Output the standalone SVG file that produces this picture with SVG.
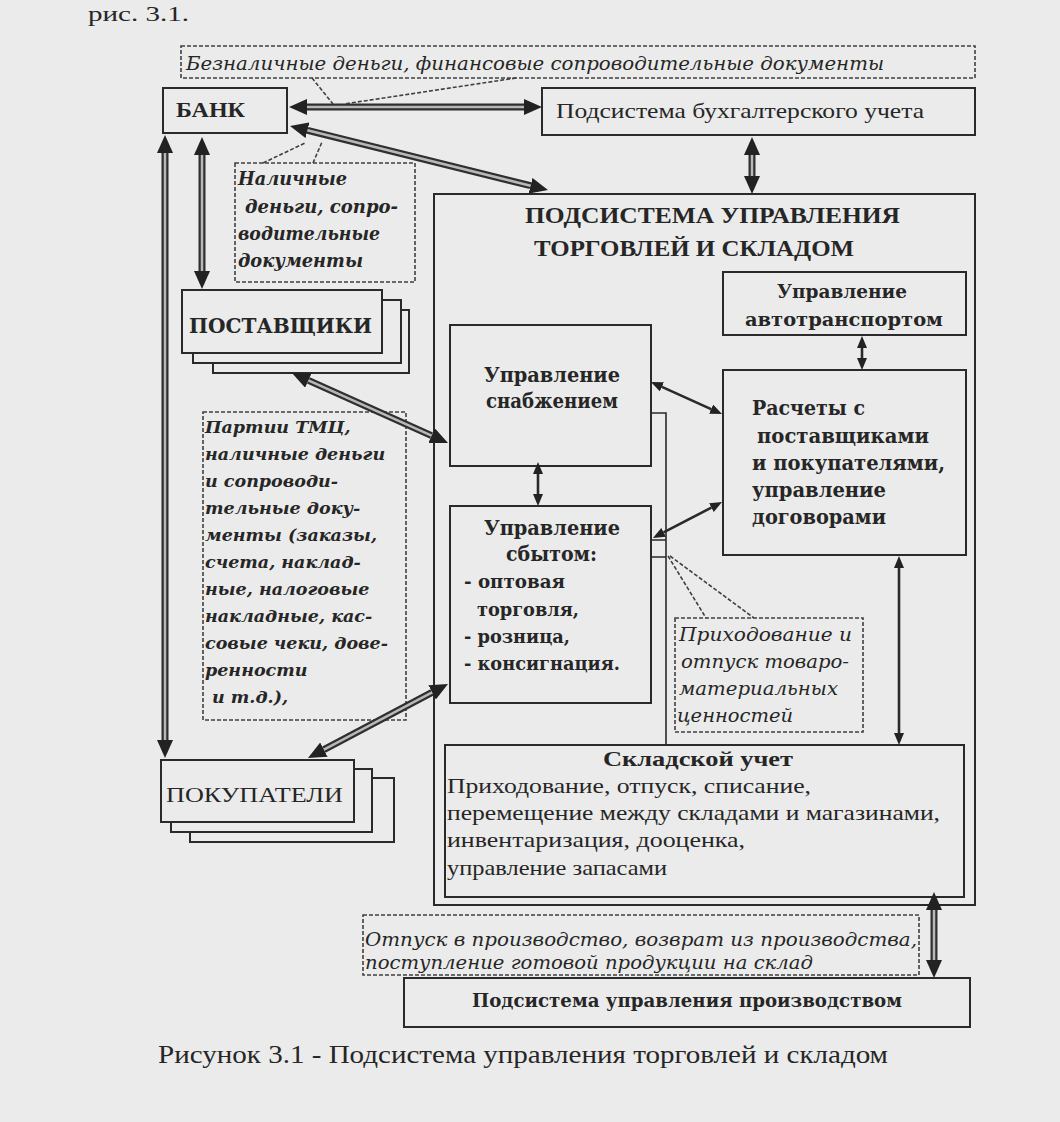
<svg xmlns="http://www.w3.org/2000/svg" width="1060" height="1122" viewBox="0 0 1060 1122">
<defs>
<style>
.box{fill:#ebebeb;stroke:#2a2a2a;stroke-width:2}
.dash{fill:none;stroke:#404040;stroke-width:1.6;stroke-dasharray:4 2}
.dl{fill:none;stroke:#404040;stroke-width:1.6;stroke-dasharray:4 2}
.thin{fill:none;stroke:#2a2a2a;stroke-width:1.6}
.dlo{stroke:#2f2f2f;stroke-width:7;fill:none}
.dli{stroke:#b8b8b8;stroke-width:2.5;fill:none;marker-start:url(#big);marker-end:url(#big)}
.sl{stroke:#2a2a2a;stroke-width:2.6;fill:none;marker-start:url(#sm);marker-end:url(#sm)}
.ser{font-family:"Liberation Serif","Times New Roman",serif;fill:#262626}
.wid{font-family:"DejaVu Serif","Liberation Serif",serif;fill:#262626}
.b{font-weight:bold}
.it{font-style:italic}
</style>
<marker id="big" viewBox="0 0 18 16" refX="0" refY="8" markerWidth="18" markerHeight="16" orient="auto-start-reverse" markerUnits="userSpaceOnUse"><path d="M0,0 L18,8 L0,16 z" fill="#222"/></marker>
<marker id="sm" viewBox="0 0 12 10" refX="0" refY="5" markerWidth="12" markerHeight="10" orient="auto-start-reverse" markerUnits="userSpaceOnUse"><path d="M0,0 L12,5 L0,10 z" fill="#222"/></marker>
</defs>
<rect x="0" y="0" width="1060" height="1122" fill="#ebebeb"/>
<text class="ser" x="88" y="21" font-size="22" textLength="101" lengthAdjust="spacingAndGlyphs">рис. 3.1.</text>

<g id="main">
<rect class="box" x="434" y="194" width="541" height="711"/>
<text class="ser b" x="525" y="223" font-size="24" textLength="375" lengthAdjust="spacingAndGlyphs">ПОДСИСТЕМА УПРАВЛЕНИЯ</text>
<text class="ser b" x="534" y="256" font-size="24" textLength="320" lengthAdjust="spacingAndGlyphs">ТОРГОВЛЕЙ И СКЛАДОМ</text>
</g>

<g id="bank">
<rect class="box" x="163" y="88" width="124" height="45"/>
<text class="ser b" x="176" y="117" font-size="20" textLength="69" lengthAdjust="spacingAndGlyphs">БАНК</text>
</g>

<g id="buh">
<rect class="box" x="542" y="88" width="433" height="47"/>
<text class="ser" x="556" y="118" font-size="21" textLength="368" lengthAdjust="spacingAndGlyphs">Подсистема бухгалтерского учета</text>
</g>

<g id="postav">
<rect class="box" x="213" y="310" width="196" height="63"/>
<rect class="box" x="193" y="300" width="208" height="63"/>
<rect class="box" x="182" y="290" width="200" height="63"/>
<text class="wid b" x="189" y="333" font-size="20" textLength="183" lengthAdjust="spacingAndGlyphs">ПОСТАВЩИКИ</text>
</g>

<g id="pokup">
<rect class="box" x="190" y="778" width="204" height="64"/>
<rect class="box" x="171" y="769" width="201" height="63"/>
<rect class="box" x="161" y="760" width="193" height="62"/>
<text class="ser" x="166" y="802" font-size="22" textLength="177" lengthAdjust="spacingAndGlyphs">ПОКУПАТЕЛИ</text>
</g>

<g id="auto">
<rect class="box" x="723" y="272" width="243" height="63"/>
<text class="wid b" x="777" y="298" font-size="19" textLength="130" lengthAdjust="spacingAndGlyphs">Управление</text>
<text class="wid b" x="745" y="326" font-size="19" textLength="198" lengthAdjust="spacingAndGlyphs">автотранспортом</text>
</g>

<g id="snab">
<rect class="box" x="450" y="325" width="201" height="141"/>
<text class="wid b" x="484" y="382" font-size="20" textLength="136" lengthAdjust="spacingAndGlyphs">Управление</text>
<text class="wid b" x="486" y="408" font-size="20" textLength="132" lengthAdjust="spacingAndGlyphs">снабжением</text>
</g>

<g id="sbyt">
<rect class="box" x="450" y="506" width="201" height="197"/>
<text class="wid b" x="484" y="535" font-size="20" textLength="136" lengthAdjust="spacingAndGlyphs">Управление</text>
<text class="wid b" x="506" y="561" font-size="20" textLength="91" lengthAdjust="spacingAndGlyphs">сбытом:</text>
<text class="wid b" x="464" y="588" font-size="19" textLength="101" lengthAdjust="spacingAndGlyphs">- оптовая</text>
<text class="wid b" x="477" y="616" font-size="19" textLength="102" lengthAdjust="spacingAndGlyphs">торговля,</text>
<text class="wid b" x="464" y="643" font-size="19" textLength="106" lengthAdjust="spacingAndGlyphs">- розница,</text>
<text class="wid b" x="464" y="670" font-size="19" textLength="156" lengthAdjust="spacingAndGlyphs">- консигнация.</text>
</g>

<g id="rasch">
<rect class="box" x="723" y="370" width="243" height="185"/>
<text class="wid b" x="752" y="415" font-size="20" textLength="113" lengthAdjust="spacingAndGlyphs">Расчеты с</text>
<text class="wid b" x="757" y="443" font-size="20" textLength="172" lengthAdjust="spacingAndGlyphs">поставщиками</text>
<text class="wid b" x="752" y="470" font-size="20" textLength="193" lengthAdjust="spacingAndGlyphs">и покупателями,</text>
<text class="wid b" x="752" y="497" font-size="20" textLength="134" lengthAdjust="spacingAndGlyphs">управление</text>
<text class="wid b" x="752" y="524" font-size="20" textLength="134" lengthAdjust="spacingAndGlyphs">договорами</text>
</g>

<g id="sklad">
<rect class="box" x="445" y="745" width="519" height="152"/>
<text class="ser b" x="603" y="766" font-size="22" textLength="190" lengthAdjust="spacingAndGlyphs">Складской учет</text>
<text class="ser" x="447" y="793" font-size="22" textLength="364" lengthAdjust="spacingAndGlyphs">Приходование,   отпуск, списание,</text>
<text class="ser" x="447" y="820" font-size="22" textLength="493" lengthAdjust="spacingAndGlyphs">перемещение между складами и магазинами,</text>
<text class="ser" x="447" y="847" font-size="22" textLength="298" lengthAdjust="spacingAndGlyphs">инвентаризация, дооценка,</text>
<text class="ser" x="447" y="875" font-size="22" textLength="220" lengthAdjust="spacingAndGlyphs">управление запасами</text>
</g>

<g id="prod">
<rect class="box" x="404" y="978" width="566" height="49"/>
<text class="wid b" x="472" y="1007" font-size="19" textLength="430" lengthAdjust="spacingAndGlyphs">Подсистема управления производством</text>
</g>

<g id="note-beznal">
<rect class="dash" x="181" y="46" width="794" height="32"/>
<text class="wid it" x="186" y="70" font-size="19" textLength="698" lengthAdjust="spacingAndGlyphs">Безналичные деньги, финансовые сопроводительные документы</text>
</g>

<g id="note-nal">
<rect class="dash" x="235" y="163" width="180" height="119"/>
<text class="wid it b" x="238" y="185" font-size="19" textLength="109" lengthAdjust="spacingAndGlyphs">Наличные</text>
<text class="wid it b" x="245" y="213" font-size="19" textLength="153" lengthAdjust="spacingAndGlyphs">деньги, сопро-</text>
<text class="wid it b" x="238" y="240" font-size="19" textLength="142" lengthAdjust="spacingAndGlyphs">водительные</text>
<text class="wid it b" x="238" y="267" font-size="19" textLength="125" lengthAdjust="spacingAndGlyphs">документы</text>
</g>

<g id="note-partii" class="wid it b" font-size="17.5">
<rect class="dash" x="203" y="412" width="203" height="308"/>
<text x="205" y="433">Партии ТМЦ,</text>
<text x="205" y="460">наличные деньги</text>
<text x="205" y="487">и сопроводи-</text>
<text x="205" y="514">тельные доку-</text>
<text x="205" y="541">менты (заказы,</text>
<text x="205" y="568">счета, наклад-</text>
<text x="205" y="595">ные, налоговые</text>
<text x="205" y="622">накладные, кас-</text>
<text x="205" y="649">совые чеки, дове-</text>
<text x="205" y="676">ренности</text>
<text x="212" y="703">и т.д.),</text>
</g>

<g id="note-prihod">
<rect class="dash" x="675" y="618" width="188" height="114"/>
<text class="wid it" x="679" y="641" font-size="18" textLength="173" lengthAdjust="spacingAndGlyphs">Приходование и</text>
<text class="wid it" x="681" y="668" font-size="18" textLength="168" lengthAdjust="spacingAndGlyphs">отпуск товаро-</text>
<text class="wid it" x="679" y="695" font-size="18" textLength="159" lengthAdjust="spacingAndGlyphs">материальных</text>
<text class="wid it" x="677" y="722" font-size="18" textLength="116" lengthAdjust="spacingAndGlyphs">ценностей</text>
</g>

<g id="note-otpusk">
<rect class="dash" x="363" y="915" width="556" height="60"/>
<text class="wid it" x="365" y="946" font-size="18" textLength="552" lengthAdjust="spacingAndGlyphs">Отпуск в производство, возврат из производства,</text>
<text class="wid it" x="365" y="969" font-size="18" textLength="448" lengthAdjust="spacingAndGlyphs">поступление готовой продукции на склад</text>
</g>

<g id="connectors">
<line class="dlo" x1="307" y1="107" x2="524" y2="107"/><line class="dli" x1="307" y1="107" x2="524" y2="107"/>
<line class="dlo" x1="307.5" y1="130.3" x2="530.5" y2="185.7"/><line class="dli" x1="307.5" y1="130.3" x2="530.5" y2="185.7"/>
<line class="dlo" x1="202" y1="155" x2="202" y2="271"/><line class="dli" x1="202" y1="155" x2="202" y2="271"/>
<line class="dlo" x1="165" y1="153" x2="165" y2="740"/><line class="dli" x1="165" y1="153" x2="165" y2="740"/>
<line class="dlo" x1="752" y1="155" x2="752" y2="176"/><line class="dli" x1="752" y1="155" x2="752" y2="176"/>
<line class="dlo" x1="308.4" y1="380.4" x2="431.6" y2="435.6"/><line class="dli" x1="308.4" y1="380.4" x2="431.6" y2="435.6"/>
<line class="dlo" x1="432.1" y1="692.4" x2="323.9" y2="749.6"/><line class="dli" x1="432.1" y1="692.4" x2="323.9" y2="749.6"/>
<line class="dlo" x1="934" y1="910" x2="934" y2="960"/><line class="dli" x1="934" y1="910" x2="934" y2="960"/>
<line class="sl" x1="538" y1="474" x2="538" y2="494"/>
<line class="sl" x1="862" y1="348" x2="862" y2="358"/>
<line class="sl" x1="661.9" y1="386.9" x2="711.1" y2="409.1"/>
<line class="sl" x1="663.6" y1="532.4" x2="711.4" y2="507.6"/>
<line class="sl" x1="899" y1="568" x2="899" y2="733"/>
<path class="thin" d="M651,413 H666 V745"/>
<path class="thin" d="M651,540 H666 M651,557 H666"/>
<path class="dl" d="M312,78 L333,104 M516,78 L344,104"/>
<path class="dl" d="M263,163 L305,143 M313,163 L322,142"/>
<path class="dl" d="M668,556 L706,618 M670,556 L754,618"/>
</g>

<text class="ser" x="158" y="1063" font-size="26" textLength="730" lengthAdjust="spacingAndGlyphs">Рисунок 3.1 - Подсистема управления торговлей и складом</text>
</svg>
